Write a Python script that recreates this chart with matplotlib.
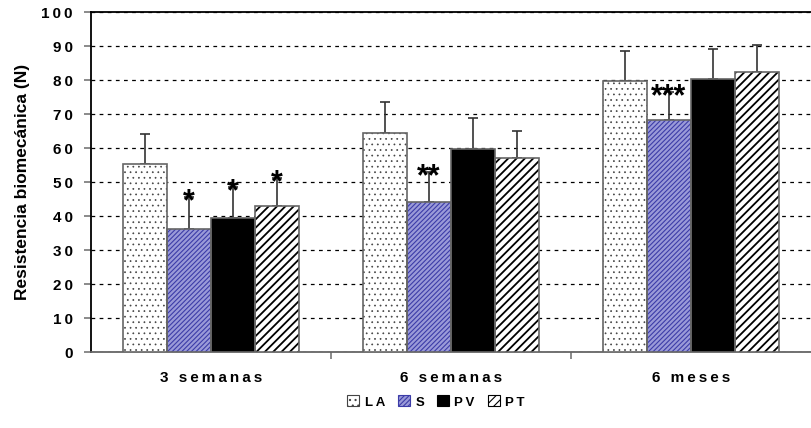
import numpy as np
import matplotlib
matplotlib.use("Agg")
import matplotlib.pyplot as plt
from matplotlib.patches import Patch

plt.rcParams['font.family'] = ['Liberation Sans', 'DejaVu Sans']
plt.rcParams['font.weight'] = 'bold'

groups = ['3 semanas', '6 semanas', '6 meses']
series = ['LA', 'S', 'PV', 'PT']
means = {
    'LA': [55.2, 64.3, 79.7],
    'S': [36.1, 44.1, 68.1],
    'PV': [39.5, 59.7, 80.4],
    'PT': [43.0, 57.0, 82.4],
}
sds = {
    'LA': [8.9, 9.1, 8.9],
    'S': [9.4, 8.7, 8.4],
    'PV': [9.1, 9.0, 8.7],
    'PT': [8.2, 7.9, 7.8],
}
# significance marks per series and group
stars = {
    'S': ['*', '**', '***'],
    'PV': ['*', '', ''],
    'PT': ['*', '', ''],
}

# (face, hatch colour, hatch, hatch lw)
styles = {
    'LA': ('white', '#444444', '...', 0.5),
    'S': ('#9a9ad8', '#3c3ca8', '///////', 0.8),
    'PV': ('black', 'black', None, 1.0),
    'PT': ('white', 'black', '////', 1.3),
}


def spaced(s):
    # the original uses wide letter spacing
    return '\u2009'.join(s)


fig = plt.figure(figsize=(8.11, 4.28), dpi=100)
ax = fig.add_axes([91 / 811, 1 - 352 / 428, 720 / 811, 340 / 428])

x = np.arange(len(groups))
w = 0.183
for i, s in enumerate(series):
    face, hcol, hatch, hlw = styles[s]
    pos = x + (i - 1.5) * w
    plt.rcParams['hatch.linewidth'] = hlw
    ax.bar(pos, means[s], w, color=face, edgecolor=hcol, hatch=hatch,
           linewidth=0, zorder=3)
    ax.bar(pos, means[s], w, fill=False, edgecolor='#666666',
           linewidth=1.2, zorder=4)
    ax.errorbar(pos, means[s], yerr=[np.zeros(3), sds[s]], fmt='none',
                ecolor='#333333', elinewidth=1.2, capsize=3.8,
                capthick=1.2, zorder=2)
    for j, st in enumerate(stars.get(s, [])):
        if st:
            ax.annotate(st, (pos[j], means[s][j] + sds[s][j]),
                        xytext=(0, -9.5), textcoords='offset points',
                        ha='center', va='baseline', fontsize=22,
                        fontweight='bold', zorder=5)

ax.set_ylim(0, 100)
ax.set_xlim(-0.5, 2.5)
yt = list(range(0, 101, 10))
ax.set_yticks(yt)
ax.set_yticklabels([spaced(str(v)) for v in yt], fontsize=11, fontweight='bold')
ax.yaxis.grid(True, linestyle=(0, (3, 3.5)), color='black', linewidth=0.9)
ax.set_axisbelow(True)
ax.tick_params(axis='y', length=5, width=1.2, pad=8, color='#777777')

ax.set_xticks([0.5, 1.5])
ax.set_xticklabels([])
ax.tick_params(axis='x', which='major', length=5, width=1.2, color='#777777')
ax.set_xticks(x, minor=True)
ax.set_xticklabels([spaced(g) for g in groups], minor=True, fontsize=11,
                   fontweight='bold')
ax.tick_params(axis='x', which='minor', length=0, pad=14)

for sp in ['top', 'left']:
    ax.spines[sp].set_linewidth(1.3)
ax.spines['bottom'].set_linewidth(1.3)
ax.spines['bottom'].set_color('#666666')
ax.spines['right'].set_visible(False)

ax.set_ylabel('Resistencia biomecánica (N)', fontsize=12.5,
              fontweight='bold', labelpad=8)

handles = []
for s in series:
    face, hcol, hatch, hlw = styles[s]
    handles.append(Patch(facecolor=face, edgecolor=hcol if s != 'PV' else 'black',
                         hatch=hatch, linewidth=0.8, label=spaced(s)))
plt.rcParams['hatch.linewidth'] = 0.8
fig.legend(handles=handles, loc='center', bbox_to_anchor=(436 / 811, 1 - 402 / 428),
           ncol=4, frameon=False, handlelength=0.9, handleheight=0.9,
           handletextpad=0.4, columnspacing=1.0,
           prop={'weight': 'bold', 'size': 9.5})

fig.savefig('out.png', dpi=100)
